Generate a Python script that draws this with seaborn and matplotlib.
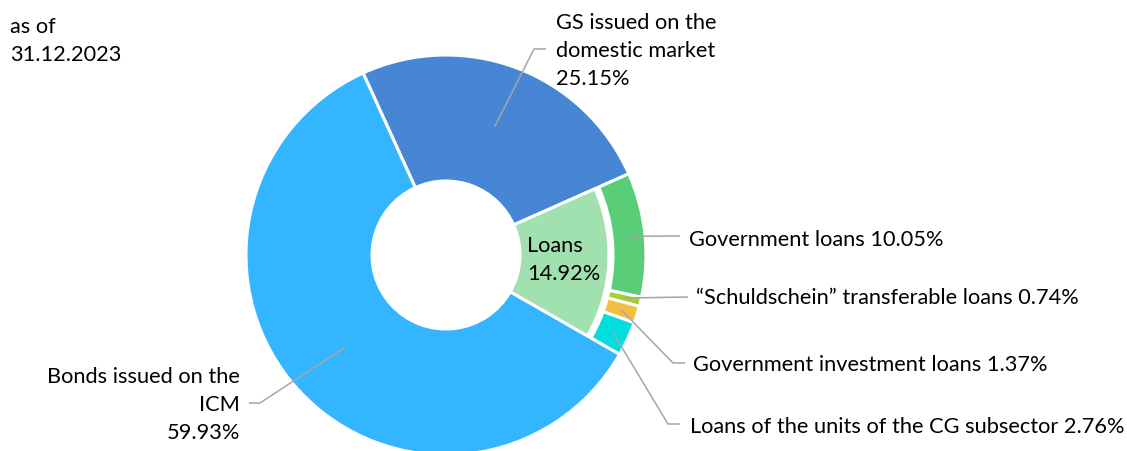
import matplotlib
matplotlib.use("Agg")
import matplotlib.pyplot as plt
import seaborn as sns
import numpy as np

# ---- data ----
date_label = "as of\n31.12.2023"
top_labels = ["GS issued on the\ndomestic market", "Loans", "Bonds issued on the\nICM"]
top_values = [25.15, 14.92, 59.93]
loan_labels = ["Government loans", "\u201cSchuldschein\u201d transferable loans",
               "Government investment loans", "Loans of the units of the CG subsector"]
loan_values = [10.05, 0.74, 1.37, 2.76]
top_colors = ["#4686d4", "#a0e1af", "#33b5ff"]
loan_colors = ["#5acd78", "#a5d22a", "#f5be41", "#00dede"]

sns.set_theme(style="white")
plt.rcParams['font.family'] = ['Lato', 'DejaVu Sans']

W, H = 1127, 452
fig = plt.figure(figsize=(W / 100, H / 100), dpi=100)
ax = fig.add_axes([0, 0, 1, 1])

cx, cy = 446, H - 256
R_out, R_loans, R_ring_in, R_hole = 200, 163, 167, 74
start = 114.5
edge = dict(edgecolor="white", linewidth=2.2)

# full-depth wedges (GS, Bonds)
w1, _ = ax.pie(top_values, radius=R_out, center=(cx, cy), startangle=start,
               counterclock=False, colors=top_colors,
               wedgeprops=dict(width=R_out - R_hole, **edge))
w1[1].set_visible(False)
# inner Loans wedge
w2, _ = ax.pie(top_values, radius=R_loans, center=(cx, cy), startangle=start,
               counterclock=False, colors=top_colors,
               wedgeprops=dict(width=R_loans - R_hole, **edge))
w2[0].set_visible(False)
w2[2].set_visible(False)
# outer ring: loan sub-categories
outer_vals = [top_values[0]] + loan_values + [top_values[2]]
outer_cols = [top_colors[0]] + loan_colors + [top_colors[2]]
w3, _ = ax.pie(outer_vals, radius=R_out, center=(cx, cy), startangle=start,
               counterclock=False, colors=outer_cols,
               wedgeprops=dict(width=R_out - R_ring_in, **edge))
w3[0].set_visible(False)
w3[-1].set_visible(False)

ax.set_xlim(0, W)
ax.set_ylim(0, H)
ax.set_aspect("equal")
ax.axis("off")


def mid_point(wedge, r):
    ang = np.deg2rad((wedge.theta1 + wedge.theta2) / 2)
    return cx + r * np.cos(ang), cy + r * np.sin(ang)


lc = "#a6a6a6"
fs = 15.7
ls = 1.47
tc = "#000000"


def leader(p0, pts):
    xs = [p0[0]] + [p[0] for p in pts]
    ys = [p0[1]] + [H - p[1] for p in pts]
    ax.plot(xs, ys, color=lc, lw=1.1, solid_capstyle="butt")


# date label
ax.text(10, H - 41, date_label, ha="left", va="center", fontsize=fs, color=tc, linespacing=ls)

# GS
r_mid = (R_out + R_hole) / 2
leader(mid_point(w1[0], r_mid), [(534, 50), (546, 50)])
ax.text(556, H - 51, f"{top_labels[0]}\n{top_values[0]:.2f}%", ha="left", va="center",
        fontsize=fs, color=tc, linespacing=ls)

# Bonds
leader(mid_point(w1[2], r_mid), [(260, 404), (249, 404)])
ax.text(240, H - 405, f"{top_labels[2]}\n{top_values[2]:.2f}%", ha="right", va="center",
        fontsize=fs, color=tc, linespacing=ls, multialignment="right")

# Loans (inner)
ax.text(527, H - 260, f"{top_labels[1]}\n{top_values[1]:.2f}%", ha="left", va="center",
        fontsize=fs, color=tc, linespacing=ls)

# loan sub-categories
r_ring = (R_out + R_ring_in) / 2
sub_layout = [
    ([(680, 237)], (689, 240)),
    ([(688, 298)], (696, 298)),
    ([(673, 364), (685, 364)], (693, 365)),
    ([(668, 425), (680, 425)], (690, 427)),
]
for i, (pts, tpos) in enumerate(sub_layout):
    leader(mid_point(w3[i + 1], r_ring), pts)
    ax.text(tpos[0], H - tpos[1], f"{loan_labels[i]} {loan_values[i]:.2f}%", ha="left",
            va="center", fontsize=fs, color=tc)

fig.savefig("out.png", dpi=100)
